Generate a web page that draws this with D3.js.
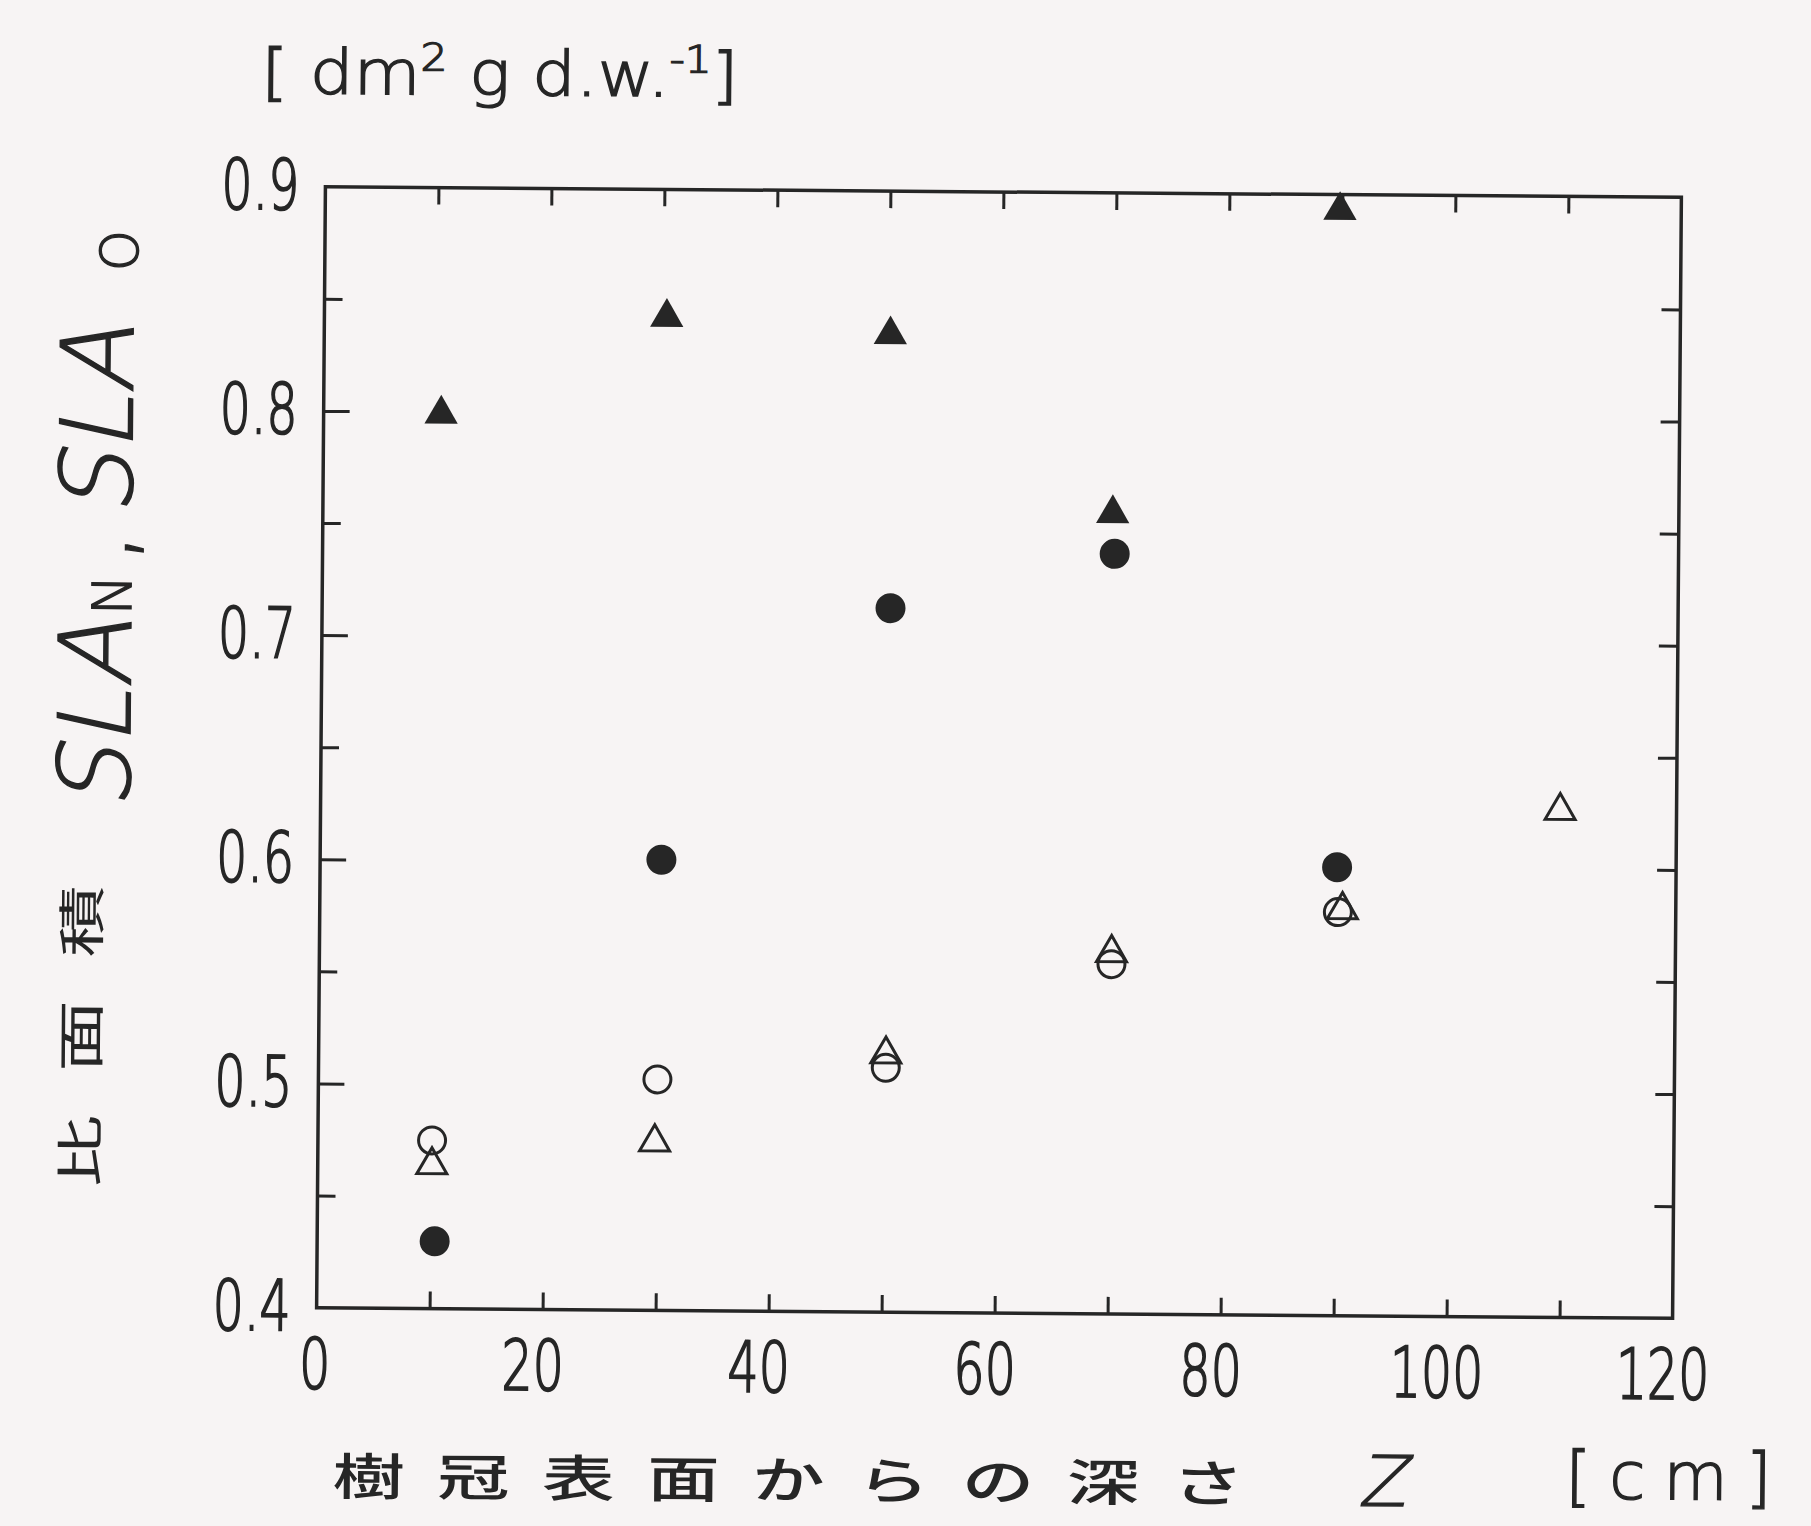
<!DOCTYPE html>
<html>
<head>
<meta charset="utf-8">
<script src="https://cdn.jsdelivr.net/npm/d3@7"></script>
<style>
  body { margin: 0; background: #f7f4f4; }
</style>
</head>
<body>
<script>
// axes
const depthLabels = [0, 20, 40, 60, 80, 100, 120];
const depthTicks = [10, 20, 30, 40, 50, 60, 70, 80, 90, 100, 110];
const slaLabels = [0.4, 0.5, 0.6, 0.7, 0.8, 0.9];
const slaMajor = [0.5, 0.6, 0.7, 0.8];
const slaMinor = [0.45, 0.55, 0.65, 0.75, 0.85];
const slaAll = [0.45, 0.5, 0.55, 0.6, 0.65, 0.7, 0.75, 0.8, 0.85];

// filled triangles
const filledTriDepth = [10.4, 30.3, 50.1, 69.9, 89.8];
const filledTriSLA = [0.799, 0.843, 0.836, 0.757, 0.893];
// filled circles
const filledCircDepth = [10.4, 30.2, 50.3, 70.1, 90.0];
const filledCircSLA = [0.430, 0.601, 0.714, 0.739, 0.600];
// open circles
const openCircDepth = [10.1, 30.0, 50.2, 70.1, 90.1];
const openCircSLA = [0.475, 0.503, 0.509, 0.556, 0.580];
// open triangles
const openTriDepth = [10.1, 29.8, 50.2, 70.1, 90.5, 109.7];
const openTriSLA = [0.464, 0.475, 0.515, 0.561, 0.581, 0.626];

const width = 1811, height = 1526;
const ink = "#262626";
const thinFont = "'DejaVu Sans', sans-serif";
const cjkFont = "'Noto Sans CJK JP', sans-serif";

let svg = d3.select("body").append("svg")
    .attr("width", width)
    .attr("height", height);

svg.append("rect")
    .attr("width", width)
    .attr("height", height)
    .attr("fill", "#f7f4f4");

// the scanned page is a little tilted
let canvas = svg.append("g")
    .attr("transform", "rotate(0.45 999 752)");

let x = d3.scaleLinear().domain([0, 120]).range([321, 1677]);
let y = d3.scaleLinear().domain([0.4, 0.9]).range([1313, 192]);

// light lettering, slightly thickened
function thin(sel, size, weight = 1.4) {
    return sel
        .attr("font-family", thinFont)
        .attr("font-weight", 200)
        .attr("font-size", size)
        .attr("fill", ink)
        .attr("stroke", ink)
        .attr("stroke-width", weight);
}

function styleTicks(sel) {
    sel.select(".domain").remove();
    sel.selectAll(".tick line").attr("stroke", ink).attr("stroke-width", 3);
}

function styleLabels(sel) {
    sel.select(".domain").remove();
    sel.selectAll(".tick line").remove();
    sel.selectAll("text")
        .call(thin, 70, 2)
        .each(function () {
            // narrow digits like the original lettering
            let len = this.getComputedTextLength();
            d3.select(this)
                .attr("textLength", len * 0.7)
                .attr("lengthAdjust", "spacingAndGlyphs");
        });
}

// thin lettering with a slant, as the light font has no italic
function slanted(parent, px, py, size, str) {
    return parent.append("text")
        .attr("transform", `translate(${px}, ${py}) skewX(-12)`)
        .call(thin, size)
        .text(str);
}

// bottom
canvas.append("g")
    .attr("transform", `translate(0, ${y(0.4)})`)
    .call(d3.axisBottom(x).tickValues(depthTicks).tickSizeInner(-17).tickSizeOuter(0).tickFormat(""))
    .call(styleTicks);

canvas.append("g")
    .attr("transform", `translate(0, ${y(0.4)})`)
    .call(d3.axisBottom(x).tickValues(depthLabels).tickSize(0).tickPadding(31))
    .call(styleLabels)
    .selectAll("text").attr("dx", (d) => d === 0 ? -2 : -10);

// top
canvas.append("g")
    .attr("transform", `translate(0, ${y(0.9)})`)
    .call(d3.axisTop(x).tickValues(depthTicks).tickSizeInner(-17).tickSizeOuter(0).tickFormat(""))
    .call(styleTicks);

// left
canvas.append("g")
    .attr("transform", `translate(${x(0)}, 0)`)
    .call(d3.axisLeft(y).tickValues(slaMajor).tickSizeInner(-26).tickSizeOuter(0).tickFormat(""))
    .call(styleTicks);

canvas.append("g")
    .attr("transform", `translate(${x(0)}, 0)`)
    .call(d3.axisLeft(y).tickValues(slaMinor).tickSizeInner(-18).tickSizeOuter(0).tickFormat(""))
    .call(styleTicks);

canvas.append("g")
    .attr("transform", `translate(${x(0)}, 0)`)
    .call(d3.axisLeft(y).tickValues(slaLabels).tickSize(0).tickPadding(26).tickFormat(d3.format(".1f")))
    .call(styleLabels);

// right
canvas.append("g")
    .attr("transform", `translate(${x(120)}, 0)`)
    .call(d3.axisRight(y).tickValues(slaAll).tickSizeInner(-19).tickSizeOuter(0).tickFormat(""))
    .call(styleTicks);

// frame
canvas.append("rect")
    .attr("x", x(0))
    .attr("y", y(0.9))
    .attr("width", x(120) - x(0))
    .attr("height", y(0.4) - y(0.9))
    .attr("fill", "none")
    .attr("stroke", ink)
    .attr("stroke-width", 3.5);

// points
let filledTri = d3.symbol().type(d3.symbolTriangle).size(480);
let openTri = d3.symbol().type(d3.symbolTriangle).size(390);

canvas.selectAll(".open-tri")
    .data(d3.zip(openTriDepth, openTriSLA))
    .enter()
        .append("path")
        .attr("class", "open-tri")
        .attr("d", openTri)
        .attr("transform", (d) => `translate(${x(d[0])}, ${y(d[1])})`)
        .attr("fill", "none")
        .attr("stroke", ink)
        .attr("stroke-width", 3);

canvas.selectAll(".open-circ")
    .data(d3.zip(openCircDepth, openCircSLA))
    .enter()
        .append("circle")
        .attr("class", "open-circ")
        .attr("cx", (d) => x(d[0]))
        .attr("cy", (d) => y(d[1]))
        .attr("r", 13.5)
        .attr("fill", "none")
        .attr("stroke", ink)
        .attr("stroke-width", 3);

canvas.selectAll(".filled-circ")
    .data(d3.zip(filledCircDepth, filledCircSLA))
    .enter()
        .append("circle")
        .attr("class", "filled-circ")
        .attr("cx", (d) => x(d[0]))
        .attr("cy", (d) => y(d[1]))
        .attr("r", 15)
        .attr("fill", ink);

canvas.selectAll(".filled-tri")
    .data(d3.zip(filledTriDepth, filledTriSLA))
    .enter()
        .append("path")
        .attr("class", "filled-tri")
        .attr("d", filledTri)
        .attr("transform", (d) => `translate(${x(d[0])}, ${y(d[1])})`)
        .attr("fill", ink);

// unit on top
let unit = canvas.append("g").attr("transform", "translate(256, 99)");
let unitText = unit.append("text").call(thin, 62);
unitText.append("tspan").text("[ dm");
unitText.append("tspan").attr("font-size", 38).attr("dy", -24).text("2");
unitText.append("tspan").attr("dy", 24).text(" g d.w.");
unitText.append("tspan").attr("font-size", 38).attr("dy", -24).text("-1");
unitText.append("tspan").attr("dy", 24).text("]");
let unitLen = unitText.node().getComputedTextLength();
unitText.attr("transform", `scale(${477 / unitLen}, 1)`);

// y title, written bottom to top
let yTitle = canvas.append("g").attr("transform", "translate(130, 1194) rotate(-90)");
yTitle.append("text")
    .attr("transform", "scale(1.5, 1)")
    .attr("y", -29)
    .attr("font-family", cjkFont)
    .attr("font-size", 48)
    .attr("fill", ink)
    .attr("textLength", 201)
    .attr("lengthAdjust", "spacing")
    .text("比面積");

slanted(yTitle, 378, 0, 100, "SLA");
yTitle.append("text").attr("x", 572).call(thin, 54).text("N");
yTitle.append("text").attr("x", 624).call(thin, 100).text(",");
slanted(yTitle, 672, 0, 100, "SLA");
yTitle.append("text").attr("x", 916).attr("y", 4).call(thin, 52).text("O");

// x title
let xTitle = canvas.append("g").attr("transform", "translate(338, 1500) scale(1.45, 1)");
xTitle.append("text")
    .attr("font-family", cjkFont)
    .attr("font-size", 50)
    .attr("font-weight", 500)
    .attr("fill", ink)
    .attr("textLength", 629)
    .attr("lengthAdjust", "spacing")
    .text("樹冠表面からの深さ");

slanted(canvas, 1364, 1503, 70, "Z");

canvas.append("text")
    .attr("x", 1571)
    .attr("y", 1494)
    .call(thin, 66)
    .attr("letter-spacing", 18)
    .text("[cm]");
</script>
</body>
</html>
